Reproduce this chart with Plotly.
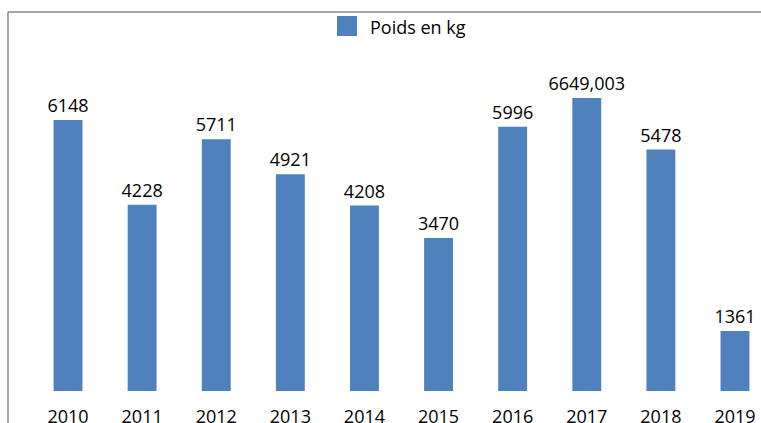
import plotly.graph_objects as go

years = ["2010", "2011", "2012", "2013", "2014", "2015", "2016", "2017", "2018", "2019"]
poids = [6148, 4228, 5711, 4921, 4208, 3470, 5996, 6649.003, 5478, 1361]
labels = ["6148", "4228", "5711", "4921", "4208", "3470", "5996", "6649,003", "5478", "1361"]
series_name = "Poids en kg"

BLUE = "#4F81BD"
FONT = "Open Sans"

fig = go.Figure()
fig.add_trace(go.Bar(
    x=years, y=poids, text=labels, textposition="outside", constraintext="none",
    textfont=dict(family=FONT, size=18, color="#000"),
    marker=dict(color=BLUE, line=dict(width=0)),
    width=0.39, name=series_name, showlegend=False, cliponaxis=False,
))

W, H = 761, 423
ml, mr, mt, mb = 8, 0, 12, 32
ph = H - mt - mb

fig.update_layout(
    width=W, height=H,
    margin=dict(l=ml, r=mr, t=mt, b=mb),
    paper_bgcolor="white", plot_bgcolor="white",
    font=dict(family=FONT, size=18, color="#000"),
    xaxis=dict(type="category", range=[-0.81, 9.351], showgrid=False, showline=False,
               automargin=False, ticks="", ticklabelstandoff=13,
               tickfont=dict(family=FONT, size=18)),
    yaxis=dict(range=[0, 8600], visible=False, automargin=False),
    shapes=[
        dict(type="line", xref="paper", yref="paper", x0=0, x1=0, y0=-mb / ph, y1=1,
             line=dict(color="#888888", width=1.5)),
        dict(type="line", xref="paper", yref="paper", x0=0, x1=1, y0=1, y1=1,
             line=dict(color="#888888", width=1.5)),
        dict(type="rect", xref="paper", yref="paper",
             x0=(337 - ml) / (W - ml - mr), x1=(357 - ml) / (W - ml - mr),
             y0=1 + (12 - 36) / ph, y1=1 + (12 - 16) / ph,
             fillcolor=BLUE, line=dict(width=0)),
    ],
    annotations=[
        dict(text=series_name, xref="paper", yref="paper",
             x=(368 - ml) / (W - ml - mr), y=1 + (12 - 27) / ph,
             xanchor="left", yanchor="middle", showarrow=False,
             font=dict(family=FONT, size=18, color="#000")),
    ],
)

fig.write_html("out.html", config={"displayModeBar": False},
               post_script="document.body.style.margin='0';document.body.style.overflow='hidden';")
